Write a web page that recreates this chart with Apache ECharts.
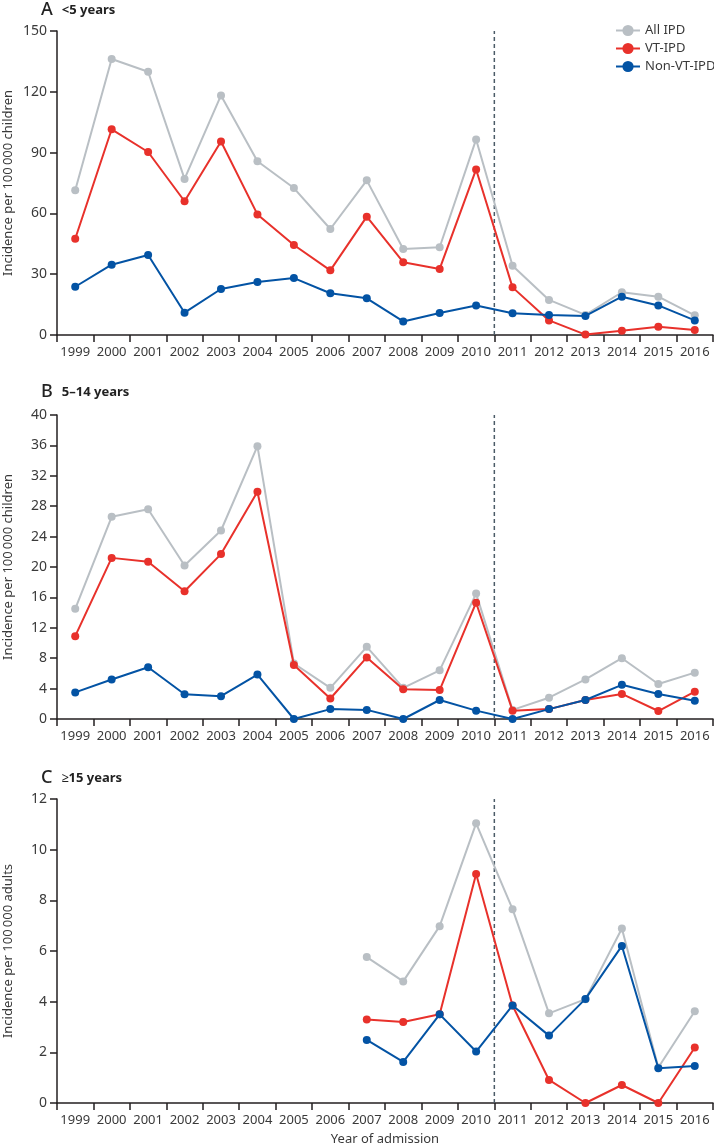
<!DOCTYPE html>
<html>
<head>
<meta charset="utf-8">
<script src="https://cdn.jsdelivr.net/npm/echarts@6/dist/echarts.min.js"></script>
<style>
html,body{margin:0;padding:0;background:#fff;}
#chart{width:714px;height:1146px;}
</style>
</head>
<body>
<div id="chart"></div>
<script>
const years = ['1999','2000','2001','2002','2003','2004','2005','2006','2007','2008','2009','2010','2011','2012','2013','2014','2015','2016'];
const seriesNames = ['All IPD','VT-IPD','Non-VT-IPD'];

// Panel A: <5 years
const aAll = [71.4,136.2,129.9,77,118.2,85.7,72.5,52.3,76.3,42.4,43.3,96.5,34.2,17.3,9.9,21.1,18.9,9.7];
const aVT  = [47.5,101.5,90.3,66,95.5,59.5,44.4,31.9,58.4,35.9,32.6,81.7,23.5,7.2,0.2,2.1,4.1,2.5];
const aNon = [23.8,34.7,39.5,11,22.7,26.1,28.1,20.6,18.1,6.7,10.9,14.6,10.7,9.9,9.4,18.9,14.6,7.2];

// Panel B: 5-14 years
const bAll = [14.5,26.6,27.6,20.2,24.8,35.9,7.3,4.1,9.5,4.1,6.4,16.5,1.2,2.8,5.2,8.0,4.6,6.1];
const bVT  = [10.9,21.2,20.7,16.8,21.7,29.9,7.1,2.7,8.1,3.9,3.8,15.3,1.1,1.3,2.5,3.3,1.05,3.6];
const bNon = [3.5,5.2,6.8,3.25,3.0,5.85,0,1.3,1.2,0,2.5,1.1,0,1.3,2.5,4.5,3.3,2.4];

// Panel C: >=15 years (data from 2007)
const cAll = [null,null,null,null,null,null,null,null,5.76,4.8,6.98,11.04,7.65,3.54,4.1,6.89,1.4,3.62];
const cVT  = [null,null,null,null,null,null,null,null,3.3,3.2,3.5,9.04,3.85,0.91,0,0.71,0,2.19];
const cNon = [null,null,null,null,null,null,null,null,2.49,1.62,3.5,2.03,3.85,2.66,4.11,6.2,1.37,1.46];

const yMax = [150, 40, 12];
const yInterval = [30, 4, 2];
const yNames = ['Incidence per 100\u2009000 children','Incidence per 100\u2009000 children','Incidence per 100\u2009000 adults'];
const panelLetters = ['A','B','C'];
const panelTitles = ['<5 years','5\u201314 years','\u226515 years'];
const vaccineBoundary = 12; // boundary between 2010 and 2011 (category index units)

const colors = {all:'#b9bfc4', vt:'#e8312b', non:'#0353a4'};
const axisColor = '#231f20';
const textColor = '#3a3a3a';
const font = 'Noto Sans';

const gridTops = [31, 415, 799];
const gridHeight = 304;

const panels = [[aAll,aVT,aNon],[bAll,bVT,bNon],[cAll,cVT,cNon]];

const grid = [], xAxis = [], yAxis = [], series = [], title = [];
const titleTops = [-4, 378, 764];

panels.forEach((p, i) => {
  grid.push({left:57, right:1, top:gridTops[i], height:gridHeight, containLabel:false, outerBoundsMode:'none'});
  xAxis.push({
    type:'category', gridIndex:i, data:years, boundaryGap:true,
    axisLine:{show:true, lineStyle:{color:axisColor, width:1.5}},
    axisTick:{show:true, length:7, lineStyle:{color:axisColor, width:1.5}},
    axisLabel:{color:textColor, fontFamily:font, fontSize:13, margin:11, interval:0, hideOverlap:false},
    splitLine:{show:false},
    name: i===2 ? 'Year of admission' : '',
    nameLocation:'middle', nameGap:30, nameMoveOverlap:false,
    nameTextStyle:{color:textColor, fontFamily:font, fontSize:13}
  });
  xAxis.push({type:'value', gridIndex:i, min:0, max:18, show:false});
  yAxis.push({
    type:'value', gridIndex:i, min:0, max:yMax[i], interval:yInterval[i],
    axisLine:{show:true, lineStyle:{color:axisColor, width:1.5}},
    axisTick:{show:true, length:7, lineStyle:{color:axisColor, width:1.5}},
    axisLabel:{color:textColor, fontFamily:font, fontSize:14, margin:10},
    splitLine:{show:false},
    name:yNames[i], nameLocation:'middle', nameGap:42, nameRotate:90, nameMoveOverlap:false,
    nameTextStyle:{color:textColor, fontFamily:font, fontSize:13}
  });
  title.push({
    left:36, top:titleTops[i],
    text:'{a|' + panelLetters[i] + '} {b|' + panelTitles[i] + '}',
    textStyle:{rich:{
      a:{fontFamily:font, fontSize:18, fontWeight:500, color:'#222', padding:[0,4,0,0]},
      b:{fontFamily:font, fontSize:13, fontWeight:'bold', color:'#222'}
    }}
  });
  // vaccine introduction dashed line drawn on the hidden value x axis
  series.push({
    type:'line', xAxisIndex:2*i+1, yAxisIndex:i, silent:true, symbol:'none', z:1,
    data:[[vaccineBoundary,0],[vaccineBoundary,yMax[i]]],
    lineStyle:{color:'#4b5b67', width:1.5, type:[4,3]}
  });
  const cols = [colors.all, colors.vt, colors.non];
  p.forEach((d, k) => {
    series.push({
      name:seriesNames[k], type:'line', xAxisIndex:2*i, yAxisIndex:i,
      data:d, symbol:'circle', symbolSize:8, z:3+k,
      itemStyle:{color:cols[k]}, lineStyle:{color:cols[k], width:2},
      connectNulls:false, animation:false
    });
  });
});

const chart = echarts.init(document.getElementById('chart'), null, {renderer:'canvas'});
chart.setOption({
  animation:false,
  backgroundColor:'#fff',
  title:title,
  legend:{
    data:seriesNames, orient:'vertical', left:615, top:24,
    itemWidth:24, itemHeight:14, itemGap:5, padding:0,
    textStyle:{color:textColor, fontFamily:font, fontSize:13}
  },
  grid:grid, xAxis:xAxis, yAxis:yAxis, series:series
});
</script>
</body>
</html>
